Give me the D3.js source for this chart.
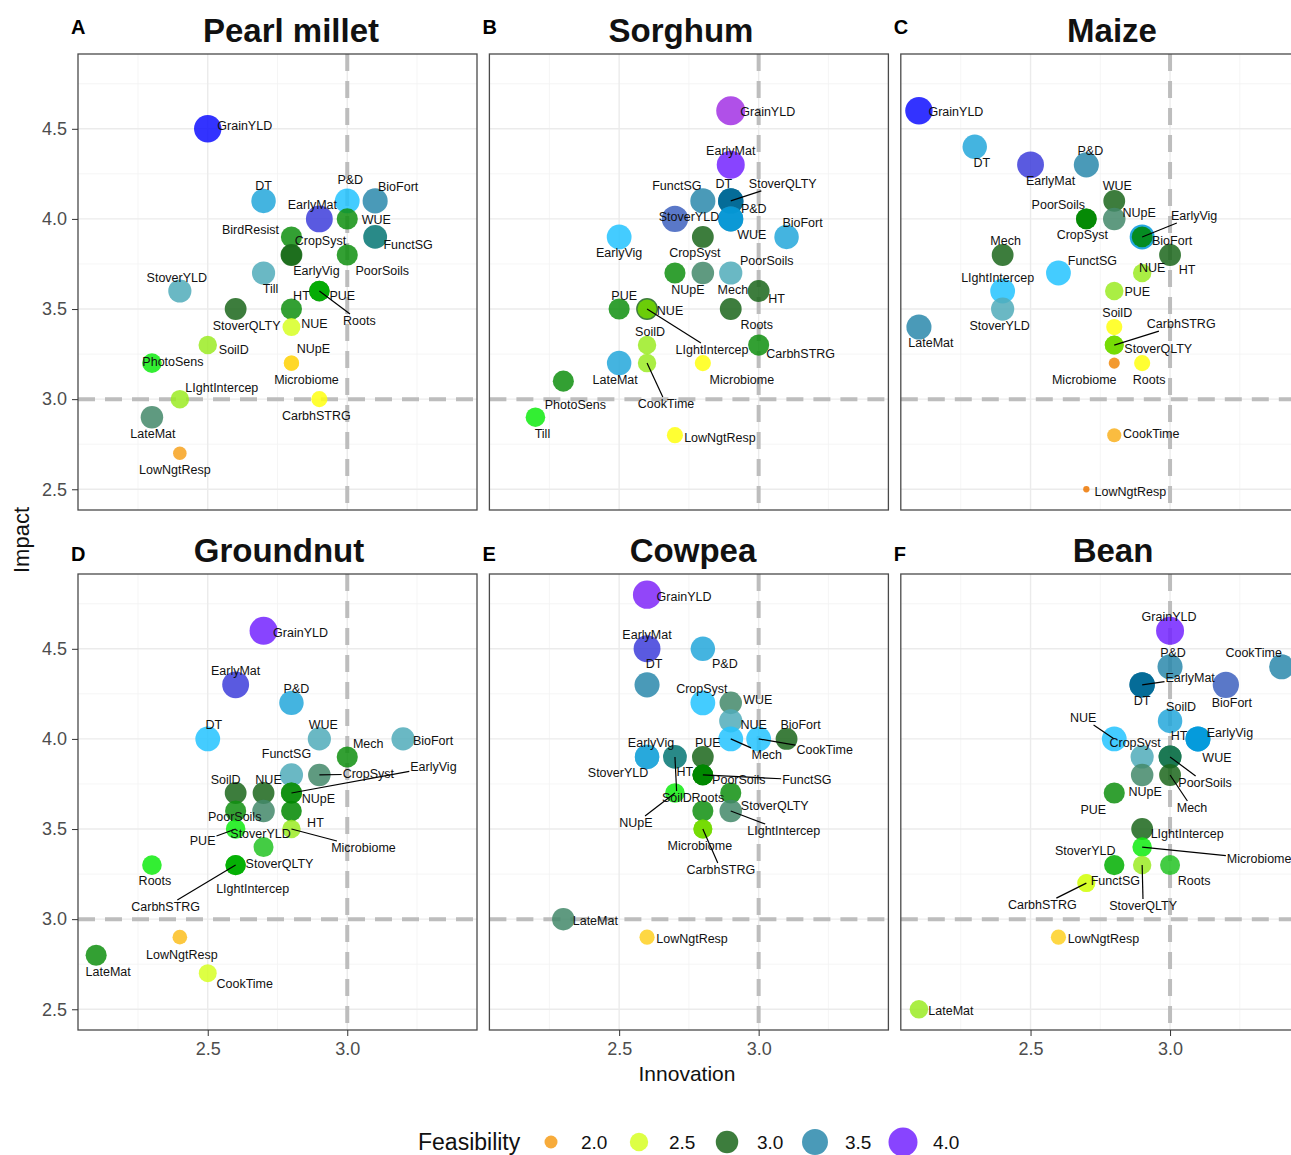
<!DOCTYPE html>
<html>
<head>
<meta charset="utf-8">
<script src="https://cdn.jsdelivr.net/npm/d3@7"></script>
<style>
  body { margin: 0; background: #fff; }
  text { font-family: "Liberation Sans", Arial, sans-serif; }
</style>
</head>
<body>
<svg id="chart" width="1291" height="1155"></svg>
<script>
// ---- data (trait, innovation, impact, feasibility) ----
var crops = ["Pearl millet", "Sorghum", "Maize", "Groundnut", "Cowpea", "Bean"];
var panelLetters = ["A", "B", "C", "D", "E", "F"];
var xTicks = [2.5, 3.0];
var yTicks = [2.5, 3.0, 3.5, 4.0, 4.5];
var xMinor = [2.25, 2.75, 3.25];
var yMinor = [2.75, 3.25, 3.75, 4.25, 4.75];
var legendValues = [2.0, 2.5, 3.0, 3.5, 4.0];

var pearlMillet = [
  ["GrainYLD", 2.5, 4.5, 3.9], ["DT", 2.7, 4.1, 3.4], ["P&D", 3.0, 4.1, 3.45],
  ["BioFort", 3.1, 4.1, 3.5], ["EarlyMat", 2.9, 4.0, 3.8], ["WUE", 3.0, 4.0, 2.9],
  ["BirdResist", 2.8, 3.9, 2.9], ["FunctSG", 3.1, 3.9, 3.3], ["EarlyVig", 2.8, 3.8, 2.9],
  ["CropSyst", 2.8, 3.8, 3.0], ["PoorSoils", 3.0, 3.8, 2.9], ["Till", 2.7, 3.7, 3.2],
  ["StoverYLD", 2.4, 3.6, 3.2], ["Roots", 2.9, 3.6, 2.85], ["PUE", 2.9, 3.6, 2.8],
  ["StoverQLTY", 2.6, 3.5, 3.0], ["HT", 2.8, 3.5, 2.9], ["NUE", 2.8, 3.4, 2.5],
  ["SoilD", 2.5, 3.3, 2.56], ["PhotoSens", 2.3, 3.2, 2.7], ["NUpE", 2.8, 3.2, 2.22],
  ["Microbiome", 2.8, 3.2, 2.22], ["LIghtIntercep", 2.4, 3.0, 2.56], ["CarbhSTRG", 2.9, 3.0, 2.3],
  ["LateMat", 2.3, 2.9, 3.1], ["LowNgtResp", 2.4, 2.7, 2.05]
];
var sorghum = [
  ["GrainYLD", 2.9, 4.6, 4.2], ["EarlyMat", 2.9, 4.3, 4.0], ["FunctSG", 2.8, 4.1, 3.5],
  ["StoverQLTY", 2.9, 4.1, 3.55], ["DT", 2.9, 4.1, 3.55], ["StoverYLD", 2.7, 4.0, 3.7],
  ["WUE", 2.9, 4.0, 3.5], ["P&D", 2.9, 4.0, 3.48], ["EarlyVig", 2.5, 3.9, 3.45],
  ["CropSyst", 2.8, 3.9, 3.0], ["BioFort", 3.1, 3.9, 3.4], ["NUpE", 2.7, 3.7, 2.9],
  ["Mech", 2.8, 3.7, 3.1], ["PoorSoils", 2.9, 3.7, 3.2], ["HT", 3.0, 3.6, 3.0],
  ["PUE", 2.5, 3.5, 2.9], ["LIghtIntercep", 2.6, 3.5, 3.0], ["NUE", 2.6, 3.5, 2.62],
  ["Roots", 2.9, 3.5, 3.0], ["SoilD", 2.6, 3.3, 2.56], ["CarbhSTRG", 3.0, 3.3, 2.9],
  ["LateMat", 2.5, 3.2, 3.4], ["CookTime", 2.6, 3.2, 2.56], ["Microbiome", 2.8, 3.2, 2.3],
  ["PhotoSens", 2.3, 3.1, 2.9], ["Till", 2.2, 2.9, 2.7], ["LowNgtResp", 2.7, 2.8, 2.3]
];
var maize = [
  ["GrainYLD", 2.1, 4.6, 3.9], ["DT", 2.3, 4.4, 3.4], ["EarlyMat", 2.5, 4.3, 3.8],
  ["P&D", 2.7, 4.3, 3.5], ["WUE", 2.8, 4.1, 3.0], ["PoorSoils", 2.7, 4.0, 2.85],
  ["CropSyst", 2.7, 4.0, 2.85], ["NUpE", 2.8, 4.0, 3.1], ["BioFort", 2.9, 3.9, 3.48],
  ["EarlyVig", 2.9, 3.9, 2.85], ["Mech", 2.4, 3.8, 3.0], ["HT", 3.0, 3.8, 3.0],
  ["FunctSG", 2.6, 3.7, 3.45], ["NUE", 2.9, 3.7, 2.56], ["LIghtIntercep", 2.4, 3.6, 3.45],
  ["PUE", 2.8, 3.6, 2.56], ["StoverYLD", 2.4, 3.5, 3.2], ["LateMat", 2.1, 3.4, 3.5],
  ["SoilD", 2.8, 3.4, 2.3], ["CarbhSTRG", 2.8, 3.3, 2.62], ["StoverQLTY", 2.8, 3.3, 2.62],
  ["Microbiome", 2.8, 3.2, 1.85], ["Roots", 2.9, 3.2, 2.3], ["CookTime", 2.8, 2.8, 2.1],
  ["LowNgtResp", 2.7, 2.5, 1.58]
];
var groundnut = [
  ["GrainYLD", 2.7, 4.6, 4.0], ["EarlyMat", 2.6, 4.3, 3.8], ["P&D", 2.8, 4.2, 3.4],
  ["DT", 2.5, 4.0, 3.45], ["WUE", 2.9, 4.0, 3.2], ["BioFort", 3.2, 4.0, 3.2],
  ["Mech", 3.0, 3.9, 2.9], ["FunctSG", 2.8, 3.8, 3.2], ["CropSyst", 2.9, 3.8, 3.1],
  ["EarlyVig", 2.8, 3.7, 2.9], ["NUpE", 2.8, 3.7, 2.9], ["SoilD", 2.6, 3.7, 3.0],
  ["NUE", 2.7, 3.7, 3.0], ["PoorSoils", 2.6, 3.6, 2.9], ["StoverYLD", 2.7, 3.6, 3.1],
  ["HT", 2.8, 3.6, 2.85], ["PUE", 2.6, 3.5, 2.7], ["Microbiome", 2.8, 3.5, 2.56],
  ["StoverQLTY", 2.7, 3.4, 2.75], ["CarbhSTRG", 2.6, 3.3, 2.8], ["LIghtIntercep", 2.6, 3.3, 2.8],
  ["Roots", 2.3, 3.3, 2.7], ["LowNgtResp", 2.4, 2.9, 2.15], ["LateMat", 2.1, 2.8, 2.9],
  ["CookTime", 2.5, 2.7, 2.5]
];
var cowpea = [
  ["GrainYLD", 2.6, 4.8, 4.05], ["EarlyMat", 2.6, 4.5, 3.8], ["P&D", 2.8, 4.5, 3.4],
  ["DT", 2.6, 4.3, 3.5], ["CropSyst", 2.8, 4.2, 3.45], ["WUE", 2.9, 4.2, 3.1],
  ["NUE", 2.9, 4.1, 3.2], ["Mech", 2.9, 4.0, 3.45], ["CookTime", 3.0, 4.0, 3.45],
  ["BioFort", 3.1, 4.0, 3.0], ["StoverYLD", 2.6, 3.9, 3.4], ["EarlyVig", 2.6, 3.9, 3.4],
  ["SoilD", 2.7, 3.9, 3.3], ["PUE", 2.8, 3.9, 3.0], ["HT", 2.8, 3.8, 2.85],
  ["FunctSG", 2.8, 3.8, 2.85], ["PoorSoils", 2.8, 3.8, 2.85], ["NUpE", 2.7, 3.7, 2.7],
  ["StoverQLTY", 2.9, 3.7, 2.9], ["Roots", 2.8, 3.6, 2.9], ["LIghtIntercep", 2.9, 3.6, 3.1],
  ["CarbhSTRG", 2.8, 3.5, 2.62], ["Microbiome", 2.8, 3.5, 2.62], ["LateMat", 2.3, 3.0, 3.1],
  ["LowNgtResp", 2.6, 2.9, 2.2]
];
var bean = [
  ["GrainYLD", 3.0, 4.6, 4.0], ["P&D", 3.0, 4.4, 3.5], ["CookTime", 3.4, 4.4, 3.5],
  ["EarlyMat", 2.9, 4.3, 3.55], ["DT", 2.9, 4.3, 3.55], ["BioFort", 3.2, 4.3, 3.7],
  ["SoilD", 3.0, 4.1, 3.4], ["NUE", 2.8, 4.0, 3.45], ["WUE", 3.1, 4.0, 3.48],
  ["EarlyVig", 3.1, 4.0, 3.48], ["CropSyst", 2.9, 3.9, 3.2], ["PoorSoils", 3.0, 3.9, 3.15],
  ["HT", 3.0, 3.9, 3.15], ["NUpE", 2.9, 3.8, 3.1], ["Mech", 3.0, 3.8, 3.0],
  ["PUE", 2.8, 3.7, 2.9], ["LIghtIntercep", 2.9, 3.5, 3.0], ["Microbiome", 2.9, 3.4, 2.7],
  ["StoverYLD", 2.8, 3.3, 2.8], ["StoverQLTY", 2.9, 3.3, 2.56], ["Roots", 3.0, 3.3, 2.75],
  ["CarbhSTRG", 2.7, 3.2, 2.5], ["FunctSG", 2.7, 3.2, 2.5], ["LowNgtResp", 2.6, 2.9, 2.2],
  ["LateMat", 2.1, 2.5, 2.56]
];
var cropData = [pearlMillet, sorghum, maize, groundnut, cowpea, bean];

// ---- label placement (repel result): [dx, dy, segment] in px ----
var labelOffsets = [
  { "GrainYLD": [37, -3], "DT": [0, -15], "P&D": [3, -21], "BioFort": [23, -14], "EarlyMat": [-7, -14],
    "WUE": [29, 1], "BirdResist": [-41, -7], "FunctSG": [33, 8], "EarlyVig": [25, 16], "CropSyst": [29, -14],
    "PoorSoils": [35, 16], "Till": [7, 16], "StoverYLD": [-3, -13], "Roots": [40, 30, 1], "PUE": [23, 5],
    "StoverQLTY": [11, 17], "HT": [10, -13], "NUE": [23, -3], "SoilD": [26, 5], "PhotoSens": [21, -1],
    "NUpE": [22, -14], "Microbiome": [15, 17], "LIghtIntercep": [42, -12], "CarbhSTRG": [-3, 16],
    "LateMat": [1, 16], "LowNgtResp": [-5, 16] },
  { "GrainYLD": [37, 1], "EarlyMat": [0, -14], "FunctSG": [-26, -15], "StoverQLTY": [52, -17, 1], "DT": [-7, -17],
    "StoverYLD": [14, -2], "WUE": [21, 16], "P&D": [23, -10], "EarlyVig": [0, 16], "CropSyst": [-8, 16],
    "BioFort": [16, -14], "NUpE": [13, 17], "Mech": [30, 17], "PoorSoils": [36, -12], "HT": [18, 8],
    "PUE": [5, -13], "LIghtIntercep": [65, 41, 1], "NUE": [23, 2], "Roots": [26, 16], "SoilD": [3, -13],
    "CarbhSTRG": [42, 9], "LateMat": [-4, 17], "CookTime": [19, 41, 1], "Microbiome": [39, 17],
    "PhotoSens": [12, 23], "Till": [7, 16], "LowNgtResp": [45, 2] },
  { "GrainYLD": [37, 1], "DT": [7, 16], "EarlyMat": [20, 16], "P&D": [4, -14], "WUE": [3, -15],
    "PoorSoils": [-28, -14], "CropSyst": [-4, 16], "NUpE": [25, -6], "BioFort": [30, 4], "EarlyVig": [52, -21, 1],
    "Mech": [3, -14], "HT": [17, 15], "FunctSG": [34, -12], "NUE": [10, -5], "LIghtIntercep": [-5, -13],
    "PUE": [23, 1], "StoverYLD": [-3, 17], "LateMat": [12, 16], "SoilD": [3, -14], "CarbhSTRG": [67, -21, 1],
    "StoverQLTY": [44, 4], "Microbiome": [-30, 17], "Roots": [7, 17], "CookTime": [37, -2], "LowNgtResp": [44, 2] },
  { "GrainYLD": [37, 2], "EarlyMat": [0, -14], "P&D": [5, -14], "DT": [6, -14], "WUE": [4, -14],
    "BioFort": [30, 2], "Mech": [21, -13], "FunctSG": [-5, -21], "CropSyst": [49, -1, 1], "EarlyVig": [142, -26, 1],
    "NUpE": [27, 6], "SoilD": [-10, -13], "NUE": [5, -13], "PoorSoils": [-1, 6], "StoverYLD": [-3, 23],
    "HT": [24, 12], "PUE": [-33, 12, 1], "Microbiome": [72, 19, 1], "StoverQLTY": [16, 17], "CarbhSTRG": [-70, 42, 1],
    "LIghtIntercep": [17, 24], "Roots": [3, 16], "LowNgtResp": [2, 17], "LateMat": [12, 16], "CookTime": [37, 10] },
  { "GrainYLD": [37, 2], "EarlyMat": [0, -14], "P&D": [22, 15], "DT": [7, -21], "CropSyst": [-1, -14],
    "WUE": [27, -3], "NUE": [23, 4], "Mech": [36, 16, 1], "CookTime": [66, 11, 1], "BioFort": [14, -14],
    "StoverYLD": [-29, 16], "EarlyVig": [4, -14], "SoilD": [2, 41, 1], "PUE": [5, -14], "HT": [-18, -3],
    "FunctSG": [104, 5, 1], "PoorSoils": [36, 5], "NUpE": [-39, 30, 1], "StoverQLTY": [44, 13], "Roots": [5, -13],
    "LIghtIntercep": [53, 20, 1], "CarbhSTRG": [18, 41, 1], "Microbiome": [-3, 17], "LateMat": [32, 1], "LowNgtResp": [45, 1] },
  { "GrainYLD": [-1, -14], "P&D": [3, -14], "CookTime": [-28, -14], "EarlyMat": [48, -7, 1], "DT": [0, 16],
    "BioFort": [6, 18], "SoilD": [11, -14], "NUE": [-31, -21, 1], "WUE": [19, 19], "EarlyVig": [32, -6],
    "CropSyst": [-7, -14], "PoorSoils": [35, 26, 1], "HT": [9, -21], "NUpE": [3, 17], "Mech": [22, 33, 1],
    "PUE": [-21, 17], "LIghtIntercep": [45, 5], "Microbiome": [117, 12, 1], "StoverYLD": [-29, -14],
    "StoverQLTY": [1, 41, 1], "Roots": [24, 16], "CarbhSTRG": [-44, 22, 1], "FunctSG": [29, -2],
    "LowNgtResp": [45, 1], "LateMat": [32, 1] }
];

// ---- layout ----
var W = 399, H = 456;
var colX = [78, 489.4, 900.8], rowY = [54, 574];
var titleX = [291, 681, 1112, 279, 693, 1113];

var svg = d3.select("#chart");
var x = d3.scaleLinear().domain([2.035, 3.465]).range([0, W]);
var y = d3.scaleLinear().domain([2.385, 4.915]).range([H, 0]);
var r = d3.scaleRadial().domain([2, 4]).range([6.5, 14]);

// feasibility colour ramp (observed tints); points drawn with alpha
var alpha = 0.85;
var feasStops = [
  [1.55, "#f08a20"], [1.85, "#f39a30"], [2.05, "#f8b040"], [2.15, "#fcc840"], [2.22, "#ffdd44"],
  [2.3, "#ffff33"], [2.5, "#ddff44"], [2.56, "#aaee44"], [2.62, "#88e022"], [2.7, "#33ee33"],
  [2.75, "#44cc44"], [2.8, "#11bb11"], [2.85, "#119911"], [2.9, "#33a033"], [3.0, "#3d7d3d"],
  [3.1, "#5f9a80"], [3.15, "#3a8a6a"], [3.2, "#6ab8c4"], [3.3, "#2a8a88"], [3.4, "#44b4e0"],
  [3.45, "#44ccff"], [3.48, "#10a8e0"], [3.5, "#4a9ab8"], [3.55, "#117fa5"], [3.7, "#5a78c8"],
  [3.8, "#5a5ae0"], [3.9, "#3333ff"], [4.0, "#8844ff"], [4.2, "#b050e8"]
];
function deTint(c) {
  var o = d3.rgb(c);
  var f = function(v) { return Math.max(0, Math.min(255, (v - (1 - alpha) * 255) / alpha)); };
  return d3.rgb(f(o.r), f(o.g), f(o.b)).formatHex();
}
var color = d3.scaleLinear()
  .domain(feasStops.map(function(s) { return s[0]; }))
  .range(feasStops.map(function(s) { return deTint(s[1]); }))
  .interpolate(d3.interpolateRgb)
  .clamp(true);

crops.forEach(function(crop, i) {
  var col = i % 3, row = Math.floor(i / 3);
  var g = svg.append("g").attr("transform", "translate(" + colX[col] + "," + rowY[row] + ")");
  var rows = cropData[i], offs = labelOffsets[i];

  // grid
  g.selectAll(".minx").data(xMinor).join("line")
    .attr("x1", x).attr("x2", x).attr("y1", 0).attr("y2", H)
    .attr("stroke", "#f2f2f2").attr("stroke-width", 0.8);
  g.selectAll(".miny").data(yMinor).join("line")
    .attr("y1", y).attr("y2", y).attr("x1", 0).attr("x2", W)
    .attr("stroke", "#f2f2f2").attr("stroke-width", 0.8);
  g.selectAll(".majx").data(xTicks).join("line")
    .attr("x1", x).attr("x2", x).attr("y1", 0).attr("y2", H)
    .attr("stroke", "#ebebeb").attr("stroke-width", 1.4);
  g.selectAll(".majy").data(yTicks).join("line")
    .attr("y1", y).attr("y2", y).attr("x1", 0).attr("x2", W)
    .attr("stroke", "#ebebeb").attr("stroke-width", 1.4);

  // reference lines at 3.0
  g.append("line").attr("x1", x(3)).attr("x2", x(3)).attr("y1", 0).attr("y2", H)
    .attr("stroke", "#bdbdbd").attr("stroke-width", 4).attr("stroke-dasharray", "17,10");
  g.append("line").attr("y1", y(3)).attr("y2", y(3)).attr("x1", 0).attr("x2", W)
    .attr("stroke", "#bdbdbd").attr("stroke-width", 4).attr("stroke-dasharray", "17,10");

  // points
  g.append("g").selectAll("circle").data(rows).join("circle")
    .attr("cx", function(d) { return x(d[1]); })
    .attr("cy", function(d) { return y(d[2]); })
    .attr("r", function(d) { return r(d[3]); })
    .attr("fill", function(d) { return color(d[3]); })
    .attr("fill-opacity", alpha);

  // labels + leader segments
  var segG = g.append("g");
  var labG = g.append("g");
  rows.forEach(function(d) {
    var px = x(d[1]), py = y(d[2]);
    var o = offs[d[0]] || [0, -14];
    var lx = px + o[0], ly = py + o[1];
    var t = labG.append("text").attr("x", lx).attr("y", ly).attr("dy", "0.35em")
      .attr("text-anchor", "middle").attr("font-size", 12.5).attr("fill", "#111").text(d[0]);
    if (o[2]) {
      var hw = t.node().getComputedTextLength() / 2 + 1, hh = 7;
      var vx = px - lx, vy = py - ly;
      var s = Math.min(vx ? hw / Math.abs(vx) : Infinity, vy ? hh / Math.abs(vy) : Infinity);
      segG.append("line").attr("x1", px).attr("y1", py)
        .attr("x2", lx + s * vx).attr("y2", ly + s * vy)
        .attr("stroke", "#000").attr("stroke-width", 1.2);
    }
  });

  // border
  g.append("rect").attr("width", W).attr("height", H)
    .attr("fill", "none").attr("stroke", "#4a4a4a").attr("stroke-width", 1.3);

  // axes
  if (col === 0) {
    var ay = g.append("g").call(d3.axisLeft(y).tickValues(yTicks).tickFormat(d3.format(".1f")).tickSize(6).tickPadding(5));
    ay.select(".domain").remove();
    ay.selectAll("line").attr("stroke", "#333");
    ay.selectAll("text").attr("font-size", 18).attr("fill", "#4d4d4d").style("font-family", "Liberation Sans, Arial, sans-serif");
  }
  if (row === 1) {
    var ax = g.append("g").attr("transform", "translate(0," + H + ")")
      .call(d3.axisBottom(x).tickValues(xTicks).tickFormat(d3.format(".1f")).tickSize(6).tickPadding(6));
    ax.select(".domain").remove();
    ax.selectAll("line").attr("stroke", "#333");
    ax.selectAll("text").attr("font-size", 18).attr("fill", "#4d4d4d").style("font-family", "Liberation Sans, Arial, sans-serif");
  }

  // title + panel letter
  svg.append("text").attr("x", titleX[i]).attr("y", row === 0 ? 42 : 562)
    .attr("text-anchor", "middle").attr("font-size", 33).attr("font-weight", "bold")
    .attr("fill", "#111").text(crop);
  svg.append("text").attr("x", colX[col] - 7).attr("y", row === 0 ? 34 : 561)
    .attr("font-size", 20).attr("font-weight", "bold").attr("fill", "#000").text(panelLetters[i]);
});

// axis titles
svg.append("text").attr("x", 687).attr("y", 1081).attr("text-anchor", "middle")
  .attr("font-size", 21).attr("fill", "#111").text("Innovation");
svg.append("text").attr("transform", "translate(29,540) rotate(-90)").attr("text-anchor", "middle")
  .attr("font-size", 22).attr("fill", "#111").text("Impact");

// legend
var leg = svg.append("g");
leg.append("text").attr("x", 418).attr("y", 1150).attr("font-size", 23).attr("fill", "#111").text("Feasibility");
var legR = d3.scaleRadial().domain([2, 4]).range([6.5, 14.5]);
legendValues.forEach(function(v, k) {
  var cx = 551 + k * 88;
  leg.append("circle").attr("cx", cx).attr("cy", 1142).attr("r", legR(v))
    .attr("fill", color(v)).attr("fill-opacity", alpha);
  leg.append("text").attr("x", cx + 30).attr("y", 1149).attr("font-size", 19).attr("fill", "#111")
    .text(d3.format(".1f")(v));
});
</script>
</body>
</html>
